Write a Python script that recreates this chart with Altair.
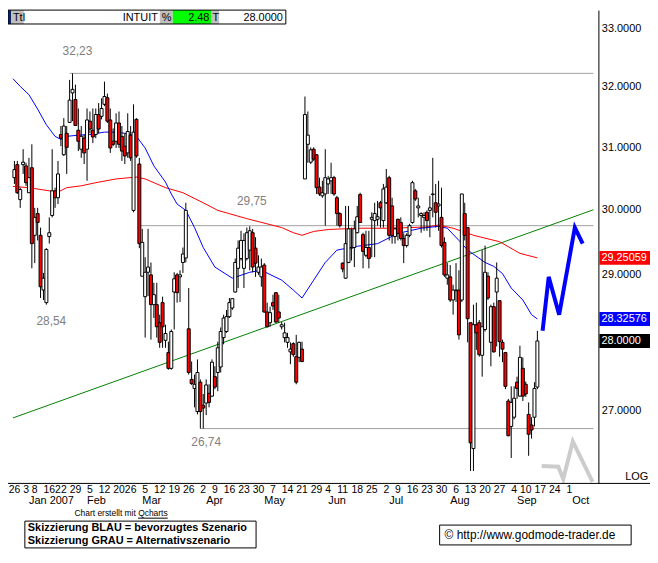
import altair as alt
import pandas as pd

FONT = "Liberation Sans"

# ---------------- INTUIT daily OHLC (26 Dec 2006 - 14 Sep 2007) ----------------
opens = [
    30.51, 30.72, 30.16, 30.72, 30.70, 30.27, 30.67, 29.60, 29.94, 29.60,
    28.76, 28.57, 29.58, 29.91, 30.30, 30.19, 31.21, 30.88, 31.23, 31.41,
    31.90, 31.79, 31.28, 30.97, 31.15, 30.97, 31.43, 31.28, 31.21, 31.54,
    31.51, 31.71, 31.82, 31.45, 31.10, 31.10, 31.40, 31.18, 31.02, 30.91,
    31.20, 29.99, 31.46, 30.73, 28.97, 28.66, 29.03, 28.99, 28.54, 28.54,
    28.27, 28.57, 28.01, 27.83, 27.60, 28.73, 28.99, 28.96, 29.18, 29.25,
    28.18, 27.44, 27.31, 26.98, 27.40, 27.07, 27.10, 27.24, 27.20, 27.48,
    27.54, 27.62, 28.05, 28.14, 28.36, 28.49, 28.73, 29.09, 29.24, 29.09,
    29.24, 29.37, 29.64, 29.40, 29.03, 28.96, 29.14, 28.43, 28.27, 28.57,
    28.72, 28.43, 28.21, 28.05, 27.98, 27.84, 27.96, 27.77, 27.76, 27.88,
    30.49, 31.05, 30.76, 30.97, 30.88, 30.36, 30.22, 30.25, 30.41, 30.46,
    30.51, 30.19, 29.94, 29.17, 28.94, 29.18, 29.40, 29.41, 29.64, 30.24,
    29.61, 29.29, 29.41, 29.85, 29.83, 29.85, 30.11, 29.83, 30.11, 30.51,
    30.06, 29.58, 29.85, 29.80, 29.55, 29.44, 29.60, 29.80, 30.30, 30.03,
    29.91, 29.88, 29.96, 29.99, 30.24, 30.11, 30.06, 29.88, 29.49, 28.94,
    28.96, 28.61, 28.75, 28.76, 28.61, 29.94, 29.72, 28.27, 26.46, 28.24,
    28.27, 27.79, 28.17, 28.97, 27.98, 28.51, 28.73, 28.60, 27.98, 27.83,
    27.13, 26.77, 26.90, 27.40, 27.20, 27.60, 27.37, 26.94, 26.79, 26.90,
    27.33,
]
highs = [
    30.78, 30.78, 30.35, 30.97, 30.75, 30.83, 31.05, 30.03, 30.03, 29.72,
    29.02, 29.40, 29.88, 30.97, 30.35, 30.78, 31.35, 31.48, 31.35, 32.12,
    32.23, 32.04, 31.64, 31.35, 31.21, 31.64, 31.59, 31.64, 31.64, 31.73,
    31.81, 32.09, 31.89, 31.64, 31.31, 31.56, 31.59, 31.35, 31.23, 31.56,
    31.35, 31.71, 31.48, 30.83, 29.70, 29.26, 29.70, 29.18, 28.87, 28.87,
    28.39, 28.66, 28.24, 27.99, 28.17, 29.03, 29.02, 29.06, 29.41, 30.11,
    28.79, 27.70, 27.51, 27.73, 27.44, 27.23, 27.44, 27.37, 27.73, 27.63,
    27.99, 28.20, 28.39, 28.46, 28.64, 28.64, 29.24, 29.52, 29.67, 29.63,
    29.72, 29.74, 29.70, 29.57, 29.29, 29.24, 29.17, 28.57, 28.51, 28.69,
    28.73, 28.69, 28.28, 28.27, 28.12, 27.98, 27.98, 28.09, 27.99, 27.99,
    31.84, 31.59, 31.00, 31.00, 30.89, 30.51, 30.46, 30.97, 30.54, 30.75,
    30.54, 30.22, 29.96, 29.18, 30.06, 30.06, 29.72, 29.83, 30.06, 30.27,
    29.64, 29.67, 29.67, 29.96, 30.11, 30.14, 30.14, 30.41, 30.65, 30.54,
    30.19, 29.72, 29.86, 29.88, 29.63, 29.63, 29.78, 30.46, 30.33, 30.19,
    29.96, 29.96, 29.99, 30.22, 30.83, 30.41, 30.46, 30.35, 29.57, 29.17,
    29.14, 28.84, 29.17, 29.06, 30.25, 30.11, 29.72, 28.27, 28.54, 28.57,
    28.31, 29.37, 29.44, 29.03, 28.54, 28.57, 29.18, 28.60, 28.02, 27.84,
    27.16, 27.34, 27.34, 27.48, 27.93, 27.76, 27.41, 27.11, 26.90, 27.40,
    28.15,
]
lows = [
    30.41, 30.25, 30.03, 30.57, 30.38, 30.27, 29.09, 29.17, 29.52, 28.64,
    28.61, 28.54, 29.47, 29.88, 30.03, 30.09, 31.02, 30.86, 30.57, 31.40,
    31.43, 31.35, 30.94, 30.83, 30.73, 30.46, 31.23, 31.07, 31.15, 31.23,
    31.46, 31.68, 31.40, 30.91, 31.02, 30.99, 30.99, 30.78, 30.73, 30.83,
    30.78, 29.96, 30.83, 29.40, 28.97, 28.05, 28.67, 28.02, 28.34, 28.05,
    27.90, 27.90, 27.90, 27.58, 27.58, 28.17, 28.57, 28.58, 29.02, 29.18,
    27.51, 27.36, 27.04, 26.94, 26.74, 26.74, 26.93, 27.04, 27.19, 27.30,
    27.27, 27.54, 27.95, 28.12, 28.34, 28.46, 28.72, 28.79, 29.21, 28.79,
    29.21, 29.06, 29.03, 28.96, 28.99, 28.81, 28.42, 28.20, 28.21, 28.46,
    28.27, 28.27, 28.17, 27.98, 27.90, 27.66, 27.77, 27.37, 27.69, 27.69,
    30.49, 30.75, 30.73, 30.78, 30.25, 30.22, 30.19, 29.75, 30.25, 30.25,
    30.22, 29.75, 29.72, 29.03, 28.93, 29.17, 29.21, 29.11, 29.63, 29.80,
    29.09, 29.26, 29.09, 29.26, 29.26, 29.75, 29.72, 29.72, 30.09, 29.52,
    29.47, 29.47, 29.52, 29.52, 29.17, 29.41, 29.57, 29.78, 30.14, 29.88,
    29.64, 29.67, 29.67, 29.57, 29.88, 29.72, 29.67, 29.41, 28.96, 28.84,
    28.58, 28.39, 28.58, 28.02, 28.58, 29.52, 27.98, 26.15, 26.15, 27.87,
    27.77, 27.48, 28.14, 28.61, 27.63, 27.83, 27.92, 27.77, 27.69, 27.30,
    26.63, 26.33, 26.87, 27.16, 27.19, 27.13, 27.19, 26.36, 26.60, 26.77,
    27.30,
]
closes = [
    30.64, 30.27, 30.32, 30.76, 30.43, 30.51, 29.47, 29.88, 29.80, 28.81,
    28.94, 29.38, 29.64, 30.30, 30.19, 30.57, 31.15, 31.35, 31.00, 31.78,
    31.96, 31.36, 31.10, 31.18, 30.91, 31.45, 31.30, 31.17, 31.54, 31.30,
    31.64, 31.84, 31.43, 30.99, 31.05, 31.40, 31.05, 30.94, 30.86, 31.26,
    30.83, 31.25, 30.86, 29.47, 29.49, 29.03, 29.11, 28.54, 28.69, 28.21,
    27.98, 28.21, 28.11, 27.60, 28.14, 28.93, 28.72, 28.99, 29.31, 29.99,
    27.54, 27.38, 27.37, 27.54, 26.98, 27.03, 27.36, 27.11, 27.69, 27.33,
    27.90, 28.14, 28.34, 28.36, 28.57, 28.63, 29.18, 29.40, 29.52, 29.52,
    29.64, 29.67, 29.11, 29.17, 29.11, 29.11, 28.43, 28.21, 28.42, 28.52,
    28.28, 28.34, 28.24, 28.12, 28.05, 27.88, 27.80, 27.40, 27.98, 27.70,
    31.54, 31.20, 30.96, 30.81, 30.35, 30.25, 30.27, 30.51, 30.49, 30.51,
    30.25, 29.94, 29.75, 29.08, 29.47, 29.70, 29.41, 29.70, 29.89, 29.80,
    29.35, 29.41, 29.24, 29.88, 29.94, 29.89, 30.03, 30.33, 30.36, 29.60,
    29.60, 29.70, 29.63, 29.55, 29.44, 29.60, 29.75, 30.43, 30.17, 30.06,
    29.94, 29.91, 29.83, 30.03, 30.25, 29.96, 30.09, 29.44, 28.99, 28.99,
    28.61, 28.76, 28.76, 28.09, 30.25, 29.60, 28.33, 26.54, 28.24, 28.12,
    27.80, 28.21, 29.03, 28.64, 28.51, 27.84, 28.94, 27.99, 27.88, 27.34,
    26.64, 27.11, 27.17, 27.31, 27.76, 27.20, 27.23, 26.66, 26.72, 27.31,
    28.00,
]

# moving averages (blue = short, red = long), read at trading-day indices
blue_i = [-0.5, 2, 5, 8, 11, 14, 16, 18, 22, 26, 31, 35, 38, 42, 45, 48, 52, 54, 56, 59,
          62, 65, 69, 75, 81, 85, 92, 96, 99, 103, 107, 111, 118, 125, 132, 140, 146, 149,
          153, 156, 162, 165, 168, 171, 175, 178, 180]
blue_v = [32.14, 32.01, 31.87, 31.63, 31.37, 31.18, 31.13, 31.18, 31.20, 31.21, 31.25, 31.25,
          31.23, 31.18, 30.99, 30.70, 30.44, 30.25, 30.09, 29.99, 29.72, 29.41, 29.11, 28.94,
          29.03, 29.06, 28.91, 28.76, 28.64, 28.91, 29.18, 29.37, 29.43, 29.47, 29.63, 29.71,
          29.74, 29.71, 29.52, 29.37, 29.18, 29.12, 29.01, 28.79, 28.61, 28.39, 28.32576]
red_i = [-0.5, 5, 12, 15, 18, 23, 28, 35, 42, 45, 52, 58, 65, 70, 80, 92, 96, 99, 103, 108,
         118, 130, 142, 146, 151, 158, 167, 174, 180]
red_v = [30.37, 30.35, 30.30, 30.28, 30.35, 30.38, 30.43, 30.49, 30.52, 30.49, 30.35, 30.27,
         30.11, 29.99, 29.86, 29.72, 29.64, 29.60, 29.66, 29.69, 29.71, 29.71, 29.73, 29.76,
         29.71, 29.60, 29.50, 29.32, 29.25059]

trend_i = [-0.5, 199.3]
trend_v = [26.89, 30.00]

level_v = [32.23, 29.75, 26.74]
level_s = [19, 43.3, 64]
level_e = [199.3, 199.3, 199.3]

note_t = ["32,23", "29,75", "28,54", "26,74"]
note_i = [21.7, 81.7, 12.7, 66]
note_v = [32.23, 29.75, 28.54, 26.74]

proj_blue_i = [181.8, 183.9, 187.5, 192.9, 195.6]
proj_blue_v = [28.15, 28.96, 28.39, 29.72, 29.47]
proj_gray_i = [181.5, 187.2, 188.9, 192.2, 199.0]
proj_gray_v = [26.22, 26.21, 26.04, 26.56, 26.00]

tag_t = ["29.25059", "28.32576", "28.0000"]
tag_v = [29.25059, 28.32576, 28.0]
tag_c = ["#ff0000", "#0000ff", "#000000"]

y_ticks = [27, 28, 29, 30, 31, 32, 33]

week_i = [0, 4, 7, 12, 16, 21, 26, 31, 36, 40, 45, 50, 55, 60, 65, 69, 74, 79, 84, 89, 94, 99,
          104, 108, 113, 118, 123, 128, 132, 137, 142, 147, 152, 157, 162, 167, 172, 176, 181,
          186, 191]
week_t = ["26", "3", "8", "16", "22", "29", "5", "12", "20", "26", "5", "12", "19", "26", "2",
          "9", "16", "23", "30", "7", "14", "21", "29", "4", "11", "18", "25", "2", "9", "16",
          "23", "30", "6", "13", "20", "27", "4", "10", "17", "24", "1"]
month_i = [4, 24, 43, 65, 85, 107, 128, 149, 172, 191]
month_t = ["Jan 2007", "Feb", "Mar", "Apr", "May", "Jun", "Jul", "Aug", "Sep", "Oct"]

header_t = ["Ttl", "INTUIT", "%", "2.48", "T", "28.0000"]
legend_t = ["Skizzierung BLAU = bevorzugtes Szenario", "Skizzierung GRAU = Alternativszenario"]
credit_t = "Chart erstellt mit "
credit_link = "Qcharts"
copyright_t = "\u00a9 http://www.godmode-trader.de"

# ---------------- build ----------------
W, H = 595, 477
xs = alt.Scale(domain=[-0.5, 199.3], nice=False, zero=False)
ys = alt.Scale(type="log", domain=[25.98, 33.32], nice=False)

ohlc = pd.DataFrame({"i": range(len(opens)), "o": opens, "h": highs, "l": lows, "c": closes})
ohlc["col"] = ["white" if c >= o else "#ff0000" for o, c in zip(ohlc.o, ohlc.c)]

yaxis = alt.Axis(orient="right", values=y_ticks, format=".4f", ticks=False, grid=False,
                 domainColor="black", domainWidth=1, labelFont=FONT, labelFontSize=11,
                 labelColor="black", labelPadding=3, title=None, labelFlush=False,
                 labelOverlap=False)

def X(f):
    return alt.X(f, type="quantitative", scale=xs, axis=None)

def Y(f):
    return alt.Y(f, type="quantitative", scale=ys, axis=yaxis)

one = pd.DataFrame({"k": [0]})

def box(x1, x2, y1, y2, fill, stroke=None):
    kw = {"fill": fill}
    if stroke:
        kw.update(stroke=stroke, strokeWidth=1)
    return alt.Chart(one).mark_rect(**kw).encode(
        x=alt.value(x1), x2=alt.value(x2), y=alt.value(y1), y2=alt.value(y2))

def frame(x1, x2, y1, y2):
    return alt.Chart(one).mark_rect(fillOpacity=0, stroke="black", strokeWidth=1).encode(
        x=alt.value(x1), x2=alt.value(x2), y=alt.value(y1), y2=alt.value(y2))

def label(txt, x, y, align="left", size=11, color="black", weight="normal"):
    return alt.Chart(one).mark_text(text=txt, align=align, baseline="middle", fontSize=size,
                                    color=color, fontWeight=weight, font=FONT).encode(
        x=alt.value(x), y=alt.value(y))

def hline(x1, x2, y, color="black", width=1):
    return alt.Chart(one).mark_rule(color=color, strokeWidth=width).encode(
        x=alt.value(x1), x2=alt.value(x2), y=alt.value(y))

layers = []

# horizontal level lines
lv = pd.DataFrame({"s": level_s, "e": level_e, "v": level_v})
layers.append(alt.Chart(lv).mark_rule(color="#a0a0a0", strokeWidth=1).encode(
    x=X("s"), x2="e:Q", y=Y("v")))

# green trend line
layers.append(alt.Chart(pd.DataFrame({"i": trend_i, "v": trend_v})).mark_line(
    color="#008000", strokeWidth=1, clip=True).encode(x=X("i"), y=Y("v")))

# moving averages
layers.append(alt.Chart(pd.DataFrame({"i": red_i, "v": red_v})).mark_line(
    color="#ff0000", strokeWidth=1, clip=True).encode(x=X("i"), y=Y("v")))
layers.append(alt.Chart(pd.DataFrame({"i": blue_i, "v": blue_v})).mark_line(
    color="#0000ff", strokeWidth=1, clip=True).encode(x=X("i"), y=Y("v")))

# candles
layers.append(alt.Chart(ohlc).mark_rule(color="black", strokeWidth=1).encode(
    x=X("i"), y=Y("l"), y2="h:Q"))
layers.append(alt.Chart(ohlc).mark_bar(size=3, stroke="black", strokeWidth=1).encode(
    x=X("i"), y=Y("o"), y2="c:Q", fill=alt.Fill("col:N", scale=None, legend=None)))

# scenario sketches
layers.append(alt.Chart(pd.DataFrame({"i": proj_gray_i, "v": proj_gray_v})).mark_line(
    color="#cccccc", strokeWidth=4, clip=True).encode(x=X("i"), y=Y("v")))
layers.append(alt.Chart(pd.DataFrame({"i": proj_blue_i, "v": proj_blue_v})).mark_line(
    color="#0000ff", strokeWidth=4, clip=True).encode(x=X("i"), y=Y("v")))

# level annotations
for t, i, v, dy in zip(note_t, note_i, note_v, [-23, -25, 17, 14]):
    layers.append(alt.Chart(pd.DataFrame({"i": [i], "v": [v], "t": [t]})).mark_text(
        align="center", baseline="middle", fontSize=12, color="#808080", font=FONT, dy=dy
    ).encode(x=X("i"), y=Y("v"), text="t:N"))

# value tags on the right axis
tags = pd.DataFrame({"v": tag_v, "t": tag_t, "c": tag_c})
layers.append(alt.Chart(tags).mark_rule(strokeWidth=14, strokeCap="butt").encode(
    x=alt.value(596), x2=alt.value(647), y=Y("v"), color=alt.Color("c:N", scale=None)))
layers.append(alt.Chart(tags).mark_text(align="left", baseline="middle", fontSize=11,
                                        color="white", font=FONT).encode(
    x=alt.value(598), y=Y("v"), text="t:N"))

# x axis (bottom line + labels)
layers.append(hline(0, 647, H))
layers.append(alt.Chart(pd.DataFrame({"i": week_i, "t": week_t})).mark_text(
    align="center", baseline="middle", fontSize=10.5, font=FONT, color="black").encode(
    x=X("i"), y=alt.value(H + 7), text="t:N"))
layers.append(alt.Chart(pd.DataFrame({"i": month_i, "t": month_t})).mark_text(
    align="left", baseline="middle", fontSize=11, font=FONT, color="black", dx=3).encode(
    x=X("i"), y=alt.value(H + 18), text="t:N"))
layers.append(label("LOG", 622, 471))

# header strip
for x1, x2, f in [(0, 3, "#0a246a"), (3, 16, "#c0c0c0"), (16, 153, "white"),
                  (153, 166, "#c0c0c0"), (166, 205, "#00ff00"), (205, 213, "#c0c0c0"),
                  (213, 280, "white")]:
    layers.append(box(x1, x2, 0, 14, f))
layers.append(frame(0, 280, 0, 14))
for t, x, a in zip(header_t, [5, 151, 155, 203, 206, 277],
                   ["left", "right", "left", "right", "left", "right"]):
    layers.append(label(t, x, 7.5, align=a))

# footer
layers.append(label(credit_t + credit_link, 67, 507, size=8.5))
layers.append(hline(131, 161, 512))
layers.append(box(17, 250, 515, 542, "white", "black"))
layers.append(label(legend_t[0], 20, 522, size=11, weight="bold"))
layers.append(label(legend_t[1], 20, 535, size=11, weight="bold"))
layers.append(box(435, 628, 519, 539, "white", "black"))
layers.append(label(copyright_t, 440, 529, size=12))

chart = alt.layer(*layers).properties(
    width=W, height=H,
    autosize=alt.AutoSizeParams(type="none"),
    padding={"left": 0, "top": 0, "right": 52, "bottom": 66},
    background="white",
).configure_view(stroke=None)

chart.save("out.html", embed_options={"renderer": "svg", "actions": False})
